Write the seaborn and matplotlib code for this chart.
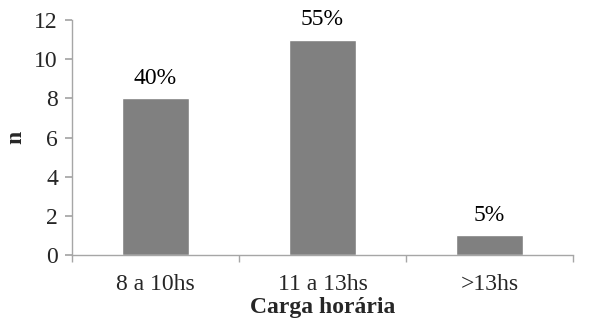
import matplotlib
matplotlib.use("Agg")
import matplotlib.pyplot as plt
import seaborn as sns
import pandas as pd

categories = ["8 a 10hs", "11 a 13hs", ">13hs"]
counts = [8, 11, 1]
percent_labels = ["40%", "55%", "5%"]

df = pd.DataFrame({"carga": categories, "n": counts})

sns.set_theme(style="white")
plt.rcParams["font.family"] = ["Liberation Serif", "DejaVu Serif"]

fs = 17

fig = plt.figure(figsize=(6.09, 3.23), dpi=100)
ax = fig.add_axes([0.118, 0.2105, 0.823, 0.7275])

sns.barplot(data=df, x="carga", y="n", color="#808080", saturation=1,
            width=0.4, ax=ax)

for i, (v, lab) in enumerate(zip(counts, percent_labels)):
    ax.annotate(lab, (i, v), xytext=(0, 7), textcoords="offset points",
                ha="center", va="bottom", fontsize=fs, color="black")

ax.set_ylim(0, 12)
ax.set_yticks(range(0, 13, 2))
ax.set_xlim(-0.5, 2.5)

axis_grey = "#a6a6a6"
for s in ["top", "right"]:
    ax.spines[s].set_visible(False)
for s in ["left", "bottom"]:
    ax.spines[s].set_color(axis_grey)
    ax.spines[s].set_linewidth(1.0)

ax.tick_params(axis="y", which="major", direction="out", length=5,
               color=axis_grey, labelsize=fs, pad=5, left=True)
ax.tick_params(axis="x", which="major", length=0, labelsize=fs, pad=14)
ax.set_xticks([-0.5, 0.5, 1.5, 2.5], minor=True)
ax.tick_params(axis="x", which="minor", direction="out", length=5,
               color=axis_grey, bottom=True)

ax.set_xlabel("Carga horária", fontsize=fs, fontweight="bold", labelpad=1)
ax.set_ylabel("n", fontsize=fs, fontweight="bold")
ax.yaxis.set_label_coords(-0.09, 0.5)

fig.savefig("out.png", dpi=100)
